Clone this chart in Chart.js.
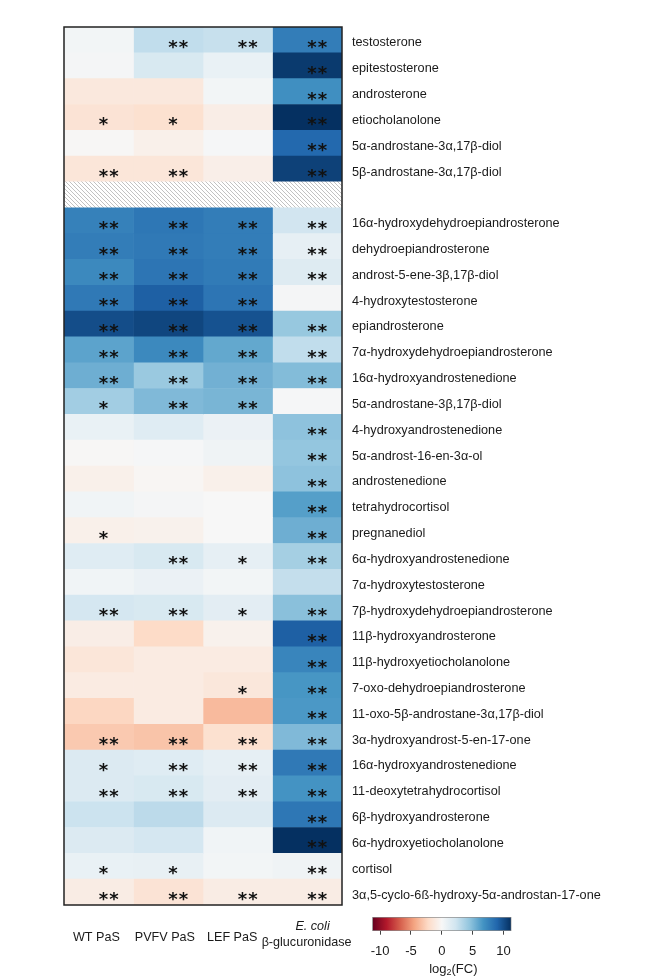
<!DOCTYPE html>
<html>
<head>
<meta charset="utf-8">
<script src="https://cdn.jsdelivr.net/npm/chart.js@4.4.1/dist/chart.umd.min.js"></script>
<style>
  html, body { margin: 0; padding: 0; background: #fff; }
  #wrap { position: relative; width: 646px; height: 980px; }
  #heat { position: absolute; left: 0; top: 0; }
  #cbar { position: absolute; left: 350px; top: 905px; }
</style>
</head>
<body>
<div id="wrap">
  <canvas id="heat" width="646" height="980"></canvas>
  <canvas id="cbar" width="180" height="75"></canvas>
</div>
<script>
// Compounds (rows). The empty entry is the separator row drawn with hatching.
const compounds = [
  'testosterone', 'epitestosterone', 'androsterone', 'etiocholanolone',
  '5α-androstane-3α,17β-diol', '5β-androstane-3α,17β-diol',
  '',
  '16α-hydroxydehydroepiandrosterone', 'dehydroepiandrosterone',
  'androst-5-ene-3β,17β-diol', '4-hydroxytestosterone', 'epiandrosterone',
  '7α-hydroxydehydroepiandrosterone', '16α-hydroxyandrostenedione',
  '5α-androstane-3β,17β-diol', '4-hydroxyandrostenedione',
  '5α-androst-16-en-3α-ol', 'androstenedione', 'tetrahydrocortisol',
  'pregnanediol', '6α-hydroxyandrostenedione', '7α-hydroxytestosterone',
  '7β-hydroxydehydroepiandrosterone', '11β-hydroxyandrosterone',
  '11β-hydroxyetiocholanolone', '7-oxo-dehydroepiandrosterone',
  '11-oxo-5β-androstane-3α,17β-diol', '3α-hydroxyandrost-5-en-17-one',
  '16α-hydroxyandrostenedione', '11-deoxytetrahydrocortisol',
  '6β-hydroxyandrosterone', '6α-hydroxyetiocholanolone', 'cortisol',
  '3α,5-cyclo-6ß-hydroxy-5α-androstan-17-one'
];

// Enzymes (columns)
const enzymes = ['WT PaS', 'PVFV PaS', 'LEF PaS', 'E. coli β-glucuronidase'];

// log2 fold changes per enzyme (null = separator row)
const wtPaS = [0.3, 0.2, -1.2, -1.6, -0.1, -1.4, null,
  7.6, 7.8, 7.2, 8.0, 10.0, 6.0, 5.5, 3.9, 0.8, -0.1, -0.6, 0.4, -0.6, 1.4, 0.4, 2.0,
  -0.8, -1.4, -1.0, -2.4, -3.0, 1.6, 1.6, 2.4, 1.6, 0.8, -0.9];
const pvfvPaS = [2.8, 1.8, -1.2, -1.8, -0.6, -1.4, null,
  8.1, 8.0, 8.2, 9.2, 10.3, 7.2, 4.2, 5.0, 1.4, 0.1, -0.2, 0.2, -0.5, 1.8, 0.7, 1.8,
  -2.2, -1.0, -1.0, -1.0, -3.2, 1.4, 1.8, 3.0, 2.0, 0.9, -1.6];
const lefPaS = [2.6, 0.8, 0.3, -0.8, 0.1, -0.7, null,
  7.8, 7.8, 7.9, 8.2, 9.8, 5.8, 5.4, 5.2, 0.7, 0.5, -0.6, 0.0, 0.0, 1.0, 0.3, 1.2,
  -0.5, -1.0, -1.3, -3.6, -1.8, 1.0, 1.2, 1.6, 0.4, 0.3, -0.9];
const ecoliGus = [7.8, 10.8, 6.9, 11.2, 8.8, 10.5, null,
  2.2, 1.0, 1.5, 0.2, 4.3, 2.8, 4.9, 0.1, 4.6, 4.4, 4.6, 6.2, 5.5, 3.8, 2.7, 4.7,
  9.2, 7.4, 6.6, 6.5, 5.0, 8.0, 6.7, 8.1, 11.2, 0.5, -0.9];

// Significance marks per enzyme
const sigWT = ['', '', '', '*', '', '**', '',
  '**', '**', '**', '**', '**', '**', '**', '*', '', '', '', '', '*', '', '', '**',
  '', '', '', '', '**', '*', '**', '', '', '*', '**'];
const sigPVFV = ['**', '', '', '*', '', '**', '',
  '**', '**', '**', '**', '**', '**', '**', '**', '', '', '', '', '', '**', '', '**',
  '', '', '', '', '**', '**', '**', '', '', '*', '**'];
const sigLEF = ['**', '', '', '', '', '', '',
  '**', '**', '**', '**', '**', '**', '**', '**', '', '', '', '', '', '*', '', '*',
  '', '', '*', '', '**', '**', '**', '', '', '', '**'];
const sigEcoli = ['**', '**', '**', '**', '**', '**', '',
  '**', '**', '**', '', '**', '**', '**', '', '**', '**', '**', '**', '**', '**', '', '**',
  '**', '**', '**', '**', '**', '**', '**', '**', '**', '**', '**'];

// Colour scale limits and tick labels of the legend bar
const scaleMin = -11.2;
const scaleMax = 11.2;
const legendTicks = [-10, -5, 0, 5, 10];

const FONT = '"Liberation Sans", Arial, Helvetica, sans-serif';
const valueColumns = [wtPaS, pvfvPaS, lefPaS, ecoliGus];
const sigColumns = [sigWT, sigPVFV, sigLEF, sigEcoli];

// Horizontal anchor of each column caption, in column units
const captionAnchor = [0.466, 0.451, 0.42, 0.49];

// Diverging red-white-blue palette
const palette = ['#67001F', '#B2182B', '#D6604D', '#F4A582', '#FDDBC7', '#F7F7F7',
  '#D1E5F0', '#92C5DE', '#4393C3', '#2166AC', '#053061'];
function hexToRgb(h) {
  return [parseInt(h.slice(1, 3), 16), parseInt(h.slice(3, 5), 16), parseInt(h.slice(5, 7), 16)];
}
const paletteRgb = palette.map(hexToRgb);
function colorFor(v) {
  let t = (v - scaleMin) / (scaleMax - scaleMin);
  t = Math.max(0, Math.min(1, t));
  const p = t * (palette.length - 1);
  const i = Math.min(Math.floor(p), palette.length - 2);
  const f = p - i;
  const a = paletteRgb[i], b = paletteRgb[i + 1];
  const c = a.map((x, k) => Math.round(x + (b[k] - x) * f));
  return `rgb(${c[0]},${c[1]},${c[2]})`;
}

// Hatching for the separator row
function makeHatch(ctx) {
  const tile = document.createElement('canvas');
  tile.width = 4; tile.height = 4;
  const t = tile.getContext('2d');
  t.fillStyle = '#ffffff';
  t.fillRect(0, 0, 4, 4);
  t.strokeStyle = '#a8a8a8';
  t.lineWidth = 0.7;
  t.beginPath();
  t.moveTo(-1, -1); t.lineTo(5, 5);
  t.moveTo(-1, 3); t.lineTo(1, 5);
  t.moveTo(3, -1); t.lineTo(5, 1);
  t.stroke();
  return ctx.createPattern(tile, 'repeat');
}

const heatCanvas = document.getElementById('heat');
const hatch = makeHatch(heatCanvas.getContext('2d'));

const datasets = valueColumns.map((vals, c) => ({
  label: enzymes[c],
  data: vals.map(() => [c, c + 1]),
  backgroundColor: vals.map(v => (v === null ? hatch : colorFor(v))),
  borderWidth: 0,
  categoryPercentage: 1.0,
  barPercentage: 1.0
}));

const cellMarks = {
  id: 'cellMarks',
  afterDatasetsDraw(chart) {
    const { ctx, chartArea, scales } = chart;
    const xs = scales.x, ys = scales.y;
    ctx.save();
    // significance stars
    ctx.font = 'bold 18px "DejaVu Sans", sans-serif';
    ctx.fillStyle = '#111';
    ctx.textAlign = 'left';
    ctx.textBaseline = 'alphabetic';
    const m = ctx.measureText('*');
    const half = (m.actualBoundingBoxAscent - m.actualBoundingBoxDescent) / 2;
    sigColumns.forEach((sigs, c) => {
      const x0 = xs.getPixelForValue(c + 0.5);
      sigs.forEach((s, r) => {
        if (!s) return;
        const yc = ys.getPixelForValue(r) + 4.5;
        for (let k = 0; k < s.length; k++) {
          ctx.fillText('*', x0 + k * 10.5, yc + half);
        }
      });
    });
    // frame
    ctx.strokeStyle = '#222';
    ctx.lineWidth = 1.5;
    ctx.strokeRect(chartArea.left, chartArea.top,
      chartArea.right - chartArea.left, chartArea.bottom - chartArea.top);
    // column captions
    ctx.fillStyle = '#1a1a1a';
    ctx.textAlign = 'center';
    ctx.textBaseline = 'middle';
    const b = chartArea.bottom;
    enzymes.forEach((name, c) => {
      const x = xs.getPixelForValue(c + captionAnchor[c]);
      if (name.startsWith('E. coli')) {
        ctx.font = 'italic 12.6px ' + FONT;
        ctx.fillText('E. coli', x + 6, b + 21);
        ctx.font = '12.6px ' + FONT;
        ctx.fillText(name.replace('E. coli ', ''), x, b + 37.7);
      } else {
        ctx.font = '12.6px ' + FONT;
        ctx.fillText(name, x, b + 33);
      }
    });
    ctx.restore();
  }
};

new Chart(heatCanvas, {
  type: 'bar',
  data: { labels: compounds, datasets },
  options: {
    indexAxis: 'y',
    responsive: false,
    animation: false,
    devicePixelRatio: 1,
    layout: { padding: { left: 64, top: 27, right: 0, bottom: 0 } },
    plugins: { legend: { display: false }, tooltip: { enabled: false } },
    scales: {
      y: {
        type: 'category',
        position: 'right',
        stacked: true,
        grid: { display: false, drawTicks: false },
        border: { display: false },
        ticks: {
          font: { family: FONT, size: 12.7 },
          color: '#1a1a1a',
          padding: 10,
          labelOffset: 3,
          autoSkip: false
        },
        afterFit(scale) { scale.width = 304; }
      },
      x: {
        type: 'linear',
        min: 0,
        max: enzymes.length,
        grid: { display: false, drawTicks: false },
        border: { display: false },
        ticks: { display: false },
        afterFit(scale) { scale.height = 75; }
      }
    }
  },
  plugins: [cellMarks]
});

// Colour legend bar
const legendTitle = {
  id: 'legendTitle',
  afterDraw(chart) {
    const { ctx, chartArea } = chart;
    const cx = (chartArea.left + chartArea.right) / 2 + 11.5;
    const y = 64;
    ctx.save();
    ctx.fillStyle = '#1a1a1a';
    ctx.textBaseline = 'middle';
    ctx.textAlign = 'left';
    ctx.font = '13px ' + FONT;
    const w1 = ctx.measureText('log').width;
    const w3 = ctx.measureText('(FC)').width;
    ctx.font = '9px ' + FONT;
    const w2 = ctx.measureText('2').width;
    let x = cx - (w1 + w2 + w3) / 2;
    ctx.font = '13px ' + FONT;
    ctx.fillText('log', x, y); x += w1;
    ctx.font = '9px ' + FONT;
    ctx.fillText('2', x, y + 4); x += w2;
    ctx.font = '13px ' + FONT;
    ctx.fillText('(FC)', x, y);
    ctx.strokeStyle = '#777';
    ctx.lineWidth = 0.6;
    ctx.strokeRect(chartArea.left, chartArea.top,
      chartArea.right - chartArea.left, chartArea.bottom - chartArea.top);
    ctx.restore();
  }
};

new Chart(document.getElementById('cbar'), {
  type: 'bar',
  data: {
    labels: ['log2(FC)'],
    datasets: [{
      data: [[scaleMin, scaleMax]],
      backgroundColor(context) {
        const chart = context.chart;
        const area = chart.chartArea;
        if (!area) return '#ccc';
        const g = chart.ctx.createLinearGradient(area.left, 0, area.right, 0);
        palette.forEach((col, i) => g.addColorStop(i / (palette.length - 1), col));
        return g;
      },
      borderWidth: 0,
      categoryPercentage: 1.0,
      barPercentage: 1.0
    }]
  },
  options: {
    indexAxis: 'y',
    responsive: false,
    animation: false,
    devicePixelRatio: 1,
    layout: { padding: { left: 22.7, right: 19, top: 12.3, bottom: 0 } },
    plugins: { legend: { display: false }, tooltip: { enabled: false } },
    scales: {
      y: { display: false },
      x: {
        type: 'linear',
        min: scaleMin,
        max: scaleMax,
        afterBuildTicks(scale) { scale.ticks = legendTicks.map(v => ({ value: v })); },
        grid: { drawOnChartArea: false, drawTicks: true, tickLength: 4, color: '#444', lineWidth: 1 },
        border: { display: false },
        ticks: {
          font: { family: FONT, size: 13 },
          color: '#1a1a1a',
          padding: 9,
          autoSkip: false,
          maxRotation: 0
        },
        afterFit(scale) { scale.height = 49.3; }
      }
    }
  },
  plugins: [legendTitle]
});
</script>
</body>
</html>
